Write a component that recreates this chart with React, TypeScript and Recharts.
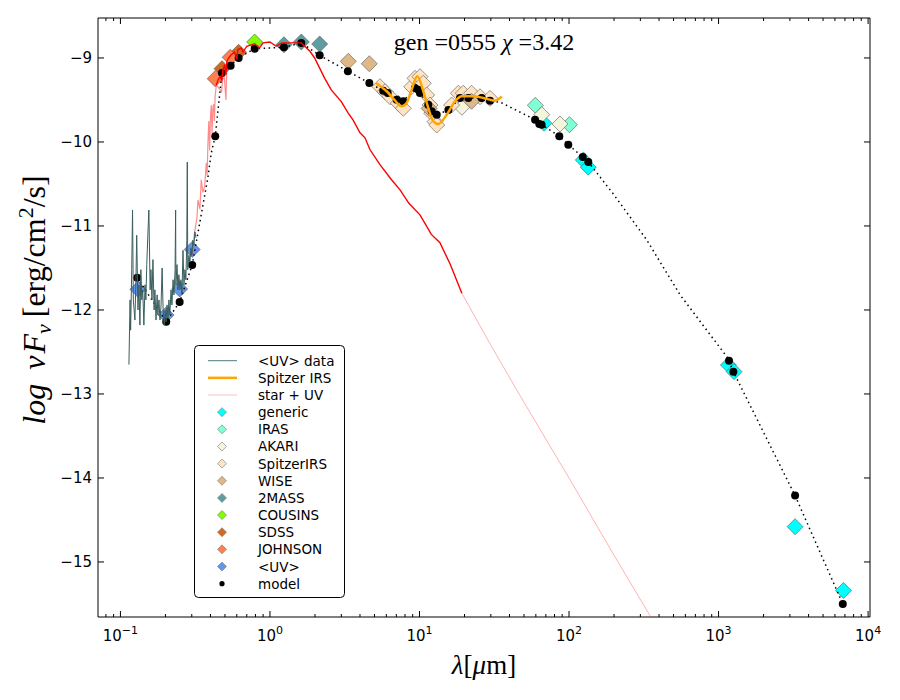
import React from 'react'
import { ComposedChart, Line, Scatter, XAxis, YAxis, Customized } from 'recharts'

type Pt = [number, number]

// wavelength [micron], log nuFnu [erg/cm2/s]
const uvSpectrum: Pt[] = [
  [0.114, -12.65], [0.116, -11.88], [0.117, -12.24], [0.119, -11.52], [0.1205, -10.81], [0.122, -11.88],
  [0.125, -12.12], [0.127, -11.64], [0.1285, -11.11], [0.131, -12.0], [0.133, -11.7], [0.135, -12.18],
  [0.137, -11.52], [0.139, -11.88], [0.141, -11.76], [0.1435, -12.18], [0.146, -11.7], [0.148, -11.88],
  [0.15, -11.46], [0.153, -11.05], [0.155, -10.81], [0.158, -11.76], [0.16, -11.52], [0.1625, -11.88],
  [0.165, -11.4], [0.168, -12.0], [0.17, -11.76], [0.173, -12.12], [0.176, -11.82], [0.178, -12.06],
  [0.181, -11.88], [0.184, -12.12], [0.187, -11.94], [0.19, -11.5], [0.193, -12.0], [0.196, -12.18],
  [0.199, -12.0], [0.202, -12.14], [0.205, -11.94], [0.208, -12.1], [0.211, -11.88], [0.214, -12.06],
  [0.218, -11.76], [0.221, -11.94], [0.225, -11.64], [0.228, -11.82], [0.232, -11.52], [0.234, -10.81],
  [0.235, -11.7], [0.239, -11.46], [0.2425, -11.76], [0.246, -11.58], [0.25, -11.76], [0.254, -11.64],
  [0.258, -11.82], [0.262, -11.29], [0.266, -11.7], [0.27, -11.52], [0.274, -11.64], [0.278, -11.17],
  [0.28, -10.24], [0.282, -11.52], [0.287, -11.35], [0.2915, -11.43], [0.296, -11.26], [0.3, -11.35],
  [0.305, -11.17], [0.31, -11.23], [0.315, -11.07], [0.32, -11.14],
]

const irsSpectrum: Pt[] = [
  [5.12, -9.298], [5.6, -9.35], [6.04, -9.396], [6.8, -9.5], [7.6, -9.575], [8.21, -9.536],
  [8.87, -9.377], [9.67, -9.218], [10.6, -9.396], [11.45, -9.595], [12.37, -9.754], [13.36, -9.786],
  [15.2, -9.675], [17.3, -9.515], [19.2, -9.456], [22.9, -9.456], [26.7, -9.476], [32.0, -9.508],
  [35.5, -9.456],
]

const starUv: Pt[] = [
  [0.3, -11.35], [0.313, -11.08], [0.325, -10.9], [0.33, -10.69], [0.34, -10.8], [0.347, -10.45],
  [0.356, -10.6], [0.366, -10.53], [0.375, -10.25], [0.38, -10.4], [0.385, -10.0], [0.39, -9.75],
  [0.395, -10.1], [0.4, -9.7], [0.405, -9.56], [0.41, -9.9], [0.415, -9.6], [0.42, -9.55],
  [0.425, -9.75], [0.43, -9.45], [0.438, -9.32], [0.475, -9.4], [0.49, -9.12], [0.508, -9.5], [0.515, -9.05],
]

const starMain: Pt[] = [
  [0.438, -9.32], [0.45, -9.26], [0.465, -9.22], [0.475, -9.26], [0.485, -9.14], [0.498, -9.08],
  [0.508, -9.2], [0.515, -9.04], [0.53, -9.0], [0.551, -8.96], [0.58, -8.93], [0.6, -9.02],
  [0.61, -8.9], [0.643, -8.88], [0.66, -8.93], [0.7, -8.86], [0.79, -8.83], [0.85, -8.88],
  [0.9, -8.82], [1.0, -8.81], [1.1, -8.86], [1.2, -8.82], [1.4, -8.82], [1.54, -8.82],
  [1.62, -8.82], [1.71, -8.86], [1.85, -8.92], [1.99, -9.0], [2.15, -9.12], [2.32, -9.24],
  [2.57, -9.38], [3.0, -9.52], [3.32, -9.65], [3.6, -9.74], [4.0, -9.89], [4.32, -9.95],
  [4.66, -10.09], [5.44, -10.27], [6.5, -10.45], [7.41, -10.57], [8.5, -10.73], [10.1, -10.87],
  [12.0, -11.1], [13.7, -11.2], [16.0, -11.45], [19.2, -11.8],
]

const starTail: Pt[] = [[19.2, -11.8], [30, -12.42], [50, -13.1], [100, -14.0], [200, -14.92], [400, -15.82]]

const modelCurve: Pt[] = [
  [0.1295, -11.615], [0.2024, -12.139], [0.2489, -11.905], [0.302, -11.464], [0.385, -10.417],
  [0.405, -10.13], [0.4306, -9.932], [0.4776, -9.179], [0.5458, -9.092], [0.6175, -9.0],
  [0.7904, -8.889], [1.24, -8.873], [1.62, -8.821], [2.15, -8.968], [3.32, -9.158], [4.62, -9.298],
  [5.72, -9.389], [7.04, -9.496], [7.79, -9.515], [9.33, -9.357], [10.07, -9.417], [11.45, -9.556],
  [12.07, -9.635], [13.04, -9.675], [15.6, -9.62], [18.66, -9.476], [21.2, -9.476], [26.05, -9.476],
  [29.6, -9.508], [35, -9.53], [59.3, -9.735], [65.6, -9.794], [86.1, -9.932], [98.9, -10.032],
  [123.5, -10.179], [134.6, -10.238], [200, -10.63], [331, -11.167], [553, -11.82], [1135, -12.556],
  [1175, -12.604], [1256, -12.735], [3250, -14.21], [6775, -15.5],
]

const modelPoints: Pt[] = [
  [0.1295, -11.615], [0.2024, -12.139], [0.2489, -11.905], [0.302, -11.464], [0.4306, -9.932],
  [0.4776, -9.179], [0.5458, -9.092], [0.6175, -9.0], [0.7904, -8.889], [1.24, -8.873],
  [1.62, -8.821], [2.15, -8.968], [3.32, -9.158], [4.62, -9.298], [5.72, -9.389], [6.13, -9.417],
  [7.04, -9.496], [7.79, -9.515], [9.33, -9.357], [9.82, -9.377], [10.07, -9.417], [11.45, -9.556],
  [12.07, -9.635], [13.04, -9.675], [15.6, -9.62], [18.66, -9.476], [21.2, -9.476], [26.05, -9.476],
  [29.6, -9.508], [59.3, -9.735], [63.3, -9.786], [65.6, -9.794], [86.1, -9.932], [98.9, -10.032],
  [123.5, -10.179], [134.6, -10.238], [1175, -12.604], [1256, -12.735], [3250, -14.21], [6775, -15.5],
]

const generic: Pt[] = [[68.0, -9.777], [124.6, -10.214], [134.5, -10.3], [1164, -12.655], [1270, -12.734], [3250, -14.58], [6840, -15.34]]
const iras: Pt[] = [[59.5, -9.563], [100.6, -9.794]]
const akari: Pt[] = [[19.2, -9.587], [65.7, -9.675], [87, -9.786]]
const spitzerIrs: Pt[] = [
  [5.44, -9.342], [5.88, -9.401], [6.35, -9.461], [7.22, -9.539], [7.79, -9.599], [8.87, -9.342],
  [9.33, -9.242], [10.08, -9.223], [10.6, -9.301], [11.17, -9.44], [11.75, -9.56], [12.07, -9.658],
  [12.7, -9.758], [13.04, -9.798], [16.4, -9.56], [18.2, -9.42], [19.6, -9.42], [22.3, -9.42],
  [25.4, -9.461], [29.6, -9.48],
]
const wise: Pt[] = [[3.34, -9.04], [4.62, -9.068], [11.6, -9.6], [22.3, -9.516]]
const twoMass: Pt[] = [[1.24, -8.842], [1.62, -8.81], [2.15, -8.833]]
const cousins: Pt[] = [[0.79, -8.81]]
const sdss: Pt[] = [[0.478, -9.127], [0.617, -8.932]]
const johnson: Pt[] = [[0.43, -9.246], [0.542, -8.992]]
const uvPhot: Pt[] = [[0.131, -11.754], [0.202, -12.06], [0.249, -11.75], [0.302, -11.28]]

const photometry = [
  { name: 'generic', color: '#00ffff', data: generic },
  { name: 'IRAS', color: '#7fffd4', data: iras },
  { name: 'AKARI', color: '#f5f5dc', data: akari },
  { name: 'SpitzerIRS', color: '#ffe4c4', data: spitzerIrs },
  { name: 'WISE', color: '#deb887', data: wise },
  { name: '2MASS', color: '#5f9ea0', data: twoMass },
  { name: 'COUSINS', color: '#7fff00', data: cousins },
  { name: 'SDSS', color: '#d2691e', data: sdss },
  { name: 'JOHNSON', color: '#ff7f50', data: johnson },
  { name: '<UV>', color: '#6495ed', data: uvPhot },
]

const xTicks = [0.08, 0.09, 0.1, 0.2, 0.3, 0.4, 0.5, 0.6, 0.7, 0.8, 0.9, 1, 2, 3, 4, 5, 6, 7, 8, 9, 10,
  20, 30, 40, 50, 60, 70, 80, 90, 100, 200, 300, 400, 500, 600, 700, 800, 900, 1000,
  2000, 3000, 4000, 5000, 6000, 7000, 8000, 9000, 10000]
const yTicks = [-15, -14, -13, -12, -11, -10, -9]

const toRows = (arr: Pt[]) => arr.map(([lam, f]) => ({ lam, f }))

const TICK_FONT = { fontFamily: 'DejaVu Sans', fontSize: 15, fill: '#000' }
const SERIF = 'Liberation Serif'

const isMajor = (v: number) => Math.abs(Math.log10(v) - Math.round(Math.log10(v))) < 1e-6

const BottomTick = (props: any) => {
  const { x, y, payload } = props
  const v = payload.value
  const major = isMajor(v)
  const e = Math.round(Math.log10(v))
  return (
    <g>
      <line x1={x} x2={x} y1={y} y2={y - (major ? 6 : 3)} stroke="#000" strokeWidth={1} />
      {major && (
        <text x={x} y={y + 24} textAnchor="middle" {...TICK_FONT}>
          10<tspan dy={-7} fontSize={11}>{e < 0 ? '\u2212' + -e : e}</tspan>
        </text>
      )}
    </g>
  )
}

const TopTick = (props: any) => {
  const { x, y, payload } = props
  const major = isMajor(payload.value)
  return <line x1={x} x2={x} y1={y} y2={y + (major ? 6 : 3)} stroke="#000" strokeWidth={1} />
}

const LeftTick = (props: any) => {
  const { x, y, payload } = props
  return (
    <g>
      <line x1={x} x2={x + 6} y1={y} y2={y} stroke="#000" strokeWidth={1} />
      <text x={x - 6} y={y + 5} textAnchor="end" {...TICK_FONT}>{'\u2212' + Math.abs(payload.value)}</text>
    </g>
  )
}

const RightTick = (props: any) => {
  const { x, y } = props
  return <line x1={x} x2={x - 6} y1={y} y2={y} stroke="#000" strokeWidth={1} />
}

const diamond = (color: string, r: number) => (props: any) => {
  const { cx, cy } = props
  if (cx == null || cy == null) return <g />
  return (
    <polygon
      points={`${cx},${cy - r} ${cx + r},${cy} ${cx},${cy + r} ${cx - r},${cy}`}
      fill={color}
      stroke="#555"
      strokeWidth={0.6}
    />
  )
}

const blackDot = (props: any) => {
  const { cx, cy } = props
  if (cx == null || cy == null) return <g />
  return <circle cx={cx} cy={cy} r={4} fill="#000" />
}

const legendRows = [
  { kind: 'line', label: '<UV> data', color: '#4f7a7a', width: 1 },
  { kind: 'line', label: 'Spitzer IRS', color: '#ffa500', width: 2.5 },
  { kind: 'line', label: 'star + UV', color: '#ffd6d6', width: 1.5 },
  ...photometry.map((p) => ({ kind: 'diamond', label: p.name, color: p.color, width: 0 })),
  { kind: 'dot', label: 'model', color: '#000', width: 0 },
]

const Overlay = () => (
  <g>
    <text x={484} y={50} textAnchor="middle" fontFamily={SERIF} fontSize={24}>
      gen =0555 <tspan fontStyle="italic">χ</tspan> =3.42
    </text>
    <text x={484} y={674} textAnchor="middle" fontFamily={SERIF} fontSize={27}>
      <tspan fontStyle="italic">λ</tspan>[<tspan fontStyle="italic">μ</tspan>m]
    </text>
    <text transform="translate(45,300) rotate(-90)" textAnchor="middle" fontFamily={SERIF} fontSize={32}>
      <tspan fontStyle="italic">log</tspan>
      <tspan fontStyle="italic" dx={14}>ν</tspan>
      <tspan fontStyle="italic" dx={2}>F</tspan>
      <tspan fontStyle="italic" fontSize={22} dy={6}>ν</tspan>
      <tspan dy={-6} dx={7}>[erg/cm</tspan>
      <tspan fontSize={22} dy={-12}>2</tspan>
      <tspan dy={12}>/s]</tspan>
    </text>
    <rect x={194.5} y={345.5} width={150} height={252} rx={4} fill="#fff" stroke="#000" strokeWidth={1} />
    {legendRows.map((row, i) => {
      const cy = 360.7 + i * 17.15
      return (
        <g key={row.label}>
          {row.kind === 'line' && <line x1={208} x2={237} y1={cy} y2={cy} stroke={row.color} strokeWidth={row.width} />}
          {row.kind === 'diamond' && (
            <polygon points={`222,${cy - 4.5} 226.5,${cy} 222,${cy + 4.5} 217.5,${cy}`} fill={row.color} stroke="#777" strokeWidth={0.6} />
          )}
          {row.kind === 'dot' && <circle cx={222} cy={cy} r={2.6} fill="#000" />}
          <text x={258} y={cy + 5} fontFamily="DejaVu Sans" fontSize={13.5}>{row.label}</text>
        </g>
      )
    })}
  </g>
)

const lineCommon = { xAxisId: 'b', yAxisId: 'l', dataKey: 'f', dot: false, activeDot: false, isAnimationActive: false } as any

export default function App() {
  return (
    <div style={{ position: 'absolute', left: 0, top: 0, width: 900, height: 700, background: '#fff' }}>
      <ComposedChart width={900} height={700} margin={{ top: 17, right: 29, bottom: 82, left: 97 }}>
        <XAxis
          xAxisId="b" dataKey="lam" type="number" scale="log" domain={[0.0708, 10300]} allowDataOverflow
          ticks={xTicks} interval={0} height={1} tickSize={0} tickMargin={0} tickLine={false}
          axisLine={{ stroke: '#000' }} tick={<BottomTick />}
        />
        <XAxis
          xAxisId="t" orientation="top" dataKey="lam" type="number" scale="log" domain={[0.0708, 10300]} allowDataOverflow
          ticks={xTicks} interval={0} height={1} tickSize={0} tickMargin={0} tickLine={false}
          axisLine={{ stroke: '#000' }} tick={<TopTick />}
        />
        <YAxis
          yAxisId="l" dataKey="f" type="number" domain={[-15.655, -8.524]} allowDataOverflow
          ticks={yTicks} interval={0} width={1} tickSize={0} tickMargin={0} tickLine={false}
          axisLine={{ stroke: '#000' }} tick={<LeftTick />}
        />
        <YAxis
          yAxisId="r" orientation="right" dataKey="f" type="number" domain={[-15.655, -8.524]} allowDataOverflow
          ticks={yTicks} interval={0} width={1} tickSize={0} tickMargin={0} tickLine={false}
          axisLine={{ stroke: '#000' }} tick={<RightTick />}
        />
        {photometry.map((p) => (
          <Scatter key={p.name} xAxisId="b" yAxisId="l" name={p.name} data={toRows(p.data)}
            shape={diamond(p.color, 8)} isAnimationActive={false} zIndex={600} />
        ))}
        <Line {...lineCommon} data={toRows(modelCurve)} stroke="#000" strokeWidth={1.5}
          strokeDasharray="1.5 3.5" zIndex={610} />
        <Scatter xAxisId="b" yAxisId="l" name="model" data={toRows(modelPoints)} shape={blackDot}
          isAnimationActive={false} zIndex={620} />
        <Line {...lineCommon} data={toRows(starUv)} stroke="#ff0000" strokeOpacity={0.45} strokeWidth={1.2} zIndex={630} />
        <Line {...lineCommon} data={toRows(starMain)} stroke="#ff0000" strokeWidth={1.4} zIndex={630} />
        <Line {...lineCommon} data={toRows(starTail)} stroke="#ff0000" strokeOpacity={0.3} strokeWidth={1} zIndex={630} />
        <Line {...lineCommon} data={toRows(uvSpectrum)} stroke="#3a5e5e" strokeWidth={1} zIndex={640} />
        <Line {...lineCommon} data={toRows(irsSpectrum)} stroke="#ffa500" type="monotone" strokeWidth={2.5} zIndex={650} />
        <Customized component={Overlay} />
      </ComposedChart>
    </div>
  )
}
